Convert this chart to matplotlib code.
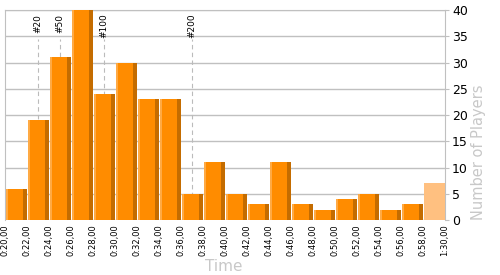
import numpy as np
import matplotlib.pyplot as plt

# histogram of finish times
edges = ["0:20,00", "0:22,00", "0:24,00", "0:26,00", "0:28,00", "0:30,00",
         "0:32,00", "0:34,00", "0:36,00", "0:38,00", "0:40,00", "0:42,00",
         "0:44,00", "0:46,00", "0:48,00", "0:50,00", "0:52,00", "0:54,00",
         "0:56,00", "0:58,00", "1:30,00"]
counts = [6, 19, 31, 40, 24, 30, 23, 23, 5, 11, 5, 3, 11, 3, 2, 4, 5, 2, 3, 7]

# rank markers (bin index where the rank falls)
markers = ["#20", "#50", "#100", "#200"]
marker_bins = [1, 2, 4, 8]

fig = plt.figure(figsize=(5, 2.75), dpi=100)
ax = fig.add_axes([0.01, 0.2, 0.88, 0.7636])

x = np.arange(len(counts))
main = counts[:-1]
xm = x[:-1]
w = 0.95
ax.bar(xm + 0.03, main, width=w, align='edge', color='#ff8c00', zorder=3)
ax.bar(xm + 0.03, main, width=0.1, align='edge', color='#ffaa44', zorder=4)
ax.bar(xm + 0.03 + w - 0.15, main, width=0.15, align='edge', color='#c46c00', zorder=4)
ax.bar(x[-1] + 0.03, counts[-1], width=w, align='edge', color='#ffc080', zorder=3)

for lab, b in zip(markers, marker_bins):
    ax.plot([b + 0.5, b + 0.5], [0, 34.5], ls=(0, (4, 3)), color='#bbbbbb', lw=0.8, zorder=2)
    ax.text(b + 0.5, 39.3, lab, rotation=90, ha='center', va='top', fontsize=6.5, color='black')

ax.set_xlim(0, len(counts))
ax.set_ylim(0, 40)
ax.set_xticks(np.arange(len(edges)))
ax.set_xticklabels(edges, rotation=90, fontsize=6)
ax.tick_params(axis='x', length=0, pad=3)
ax.set_yticks(np.arange(0, 41, 5))
ax.yaxis.tick_right()
ax.tick_params(axis='y', labelsize=9, length=3, color='#c0c0c0', pad=2)
ax.grid(axis='y', color='#c0c0c0', lw=1, zorder=0)
for s in ['left', 'right', 'top']:
    ax.spines[s].set_color('#c0c0c0')
ax.spines['bottom'].set_visible(False)

fig.text(0.957, 0.2, 'Number of Players', rotation=90, ha='center', va='bottom',
         color='#c8c8c8', fontsize=10.5)
fig.text(0.447, 0.005, 'Time', ha='center', va='bottom', color='#c8c8c8', fontsize=11)

fig.savefig('out.png', dpi=100)
